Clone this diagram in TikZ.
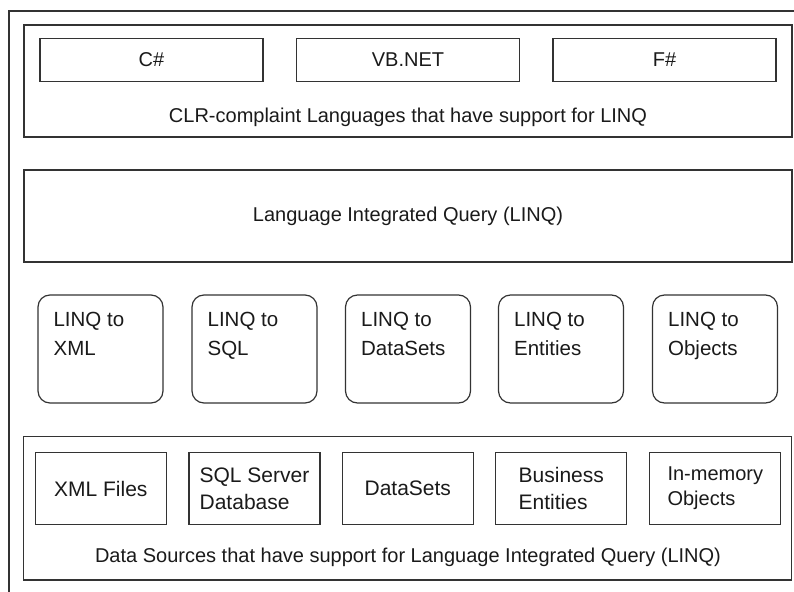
\documentclass[tikz,border=0pt]{standalone}
\usepackage{fontspec}
\setmainfont{Liberation Sans}
\usetikzlibrary{calc}
\definecolor{linecol}{HTML}{333333}
\definecolor{txtcol}{HTML}{1A1A1A}
\begin{document}
\begin{tikzpicture}[x=1pt,y=-1pt,
  edge/.style={draw=linecol, line width=1.2pt},
  panel/.style={edge, rectangle, inner sep=0pt, minimum width=768pt},
  langbox/.style={edge, rectangle, inner sep=0pt, minimum width=223pt, minimum height=43pt, text=txtcol, font=\fontsize{20}{24}\selectfont},
  caption/.style={anchor=base, inner sep=0pt, text=txtcol, font=\fontsize{20}{24}\selectfont},
  provbox/.style={edge, rectangle, rounded corners=12pt, inner sep=0pt, minimum width=125pt, minimum height=108pt},
  provtext/.style={anchor=north west, inner sep=0pt, align=left, text=txtcol, font=\fontsize{20.5}{29}\selectfont},
  srcbox/.style={edge, rectangle, inner sep=0pt, minimum width=131pt, minimum height=72.4pt, align=left, text=txtcol, font=\fontsize{21}{27.3}\selectfont}
]
\path[use as bounding box] (0,0) rectangle (794,591);
% outer frame (only top and left edges visible)
\coordinate (fb) at (9,592);
\coordinate (ftl) at (9,11);
\coordinate (ftr) at (795,11);
\draw[edge] (fb) -- (ftl) -- (ftr);

% CLR languages panel
\node[panel, minimum height=112pt] (clr) at (408,81) {};
\node[langbox] (cs) at (151.5,59.8) {C\#};
\node[langbox] (vb) at (408,59.8) {VB.NET};
\node[langbox] (fs) at (664.5,59.8) {F\#};
\node[caption] (clrlab) at (408,122) {CLR-complaint Languages that have support for LINQ};

% LINQ panel
\node[panel, minimum height=92pt] (linq) at (408,216) {};
\node[caption] (linqlab) at (408,221.7) {Language Integrated Query (LINQ)};

% LINQ providers
\node[provbox] (px) at (100.5,349) {};
\node[provtext] (pxt) at ($(px.north west)+(16,17.3)$) {LINQ to\\XML};
\node[provbox] (pq) at (254.5,349) {};
\node[provtext] (pqt) at ($(pq.north west)+(16,17.3)$) {LINQ to\\SQL};
\node[provbox] (pd) at (408,349) {};
\node[provtext] (pdt) at ($(pd.north west)+(16,17.3)$) {LINQ to\\DataSets};
\node[provbox] (pe) at (561,349) {};
\node[provtext] (pet) at ($(pe.north west)+(16,17.3)$) {LINQ to\\Entities};
\node[provbox] (po) at (715,349) {};
\node[provtext] (pot) at ($(po.north west)+(16,17.3)$) {LINQ to\\Objects};

% Data sources panel
\node[panel, minimum height=143.3pt] (src) at (407.7,508.3) {};
\node[srcbox] (sx) at (100.8,488.5) {XML Files};
\node[srcbox] (ss) at (254.5,488.5) {SQL Server\\Database};
\node[srcbox] (sd) at (407.8,488.5) {DataSets};
\node[srcbox] (sb) at (561.3,488.5) {Business\\Entities};
\node[srcbox, font=\fontsize{20}{25}\selectfont] (sm) at (715.3,488.5) {In-memory\\Objects};
\node[caption] (srclab) at (408,562.5) {Data Sources that have support for Language Integrated Query (LINQ)};
\end{tikzpicture}
\end{document}
